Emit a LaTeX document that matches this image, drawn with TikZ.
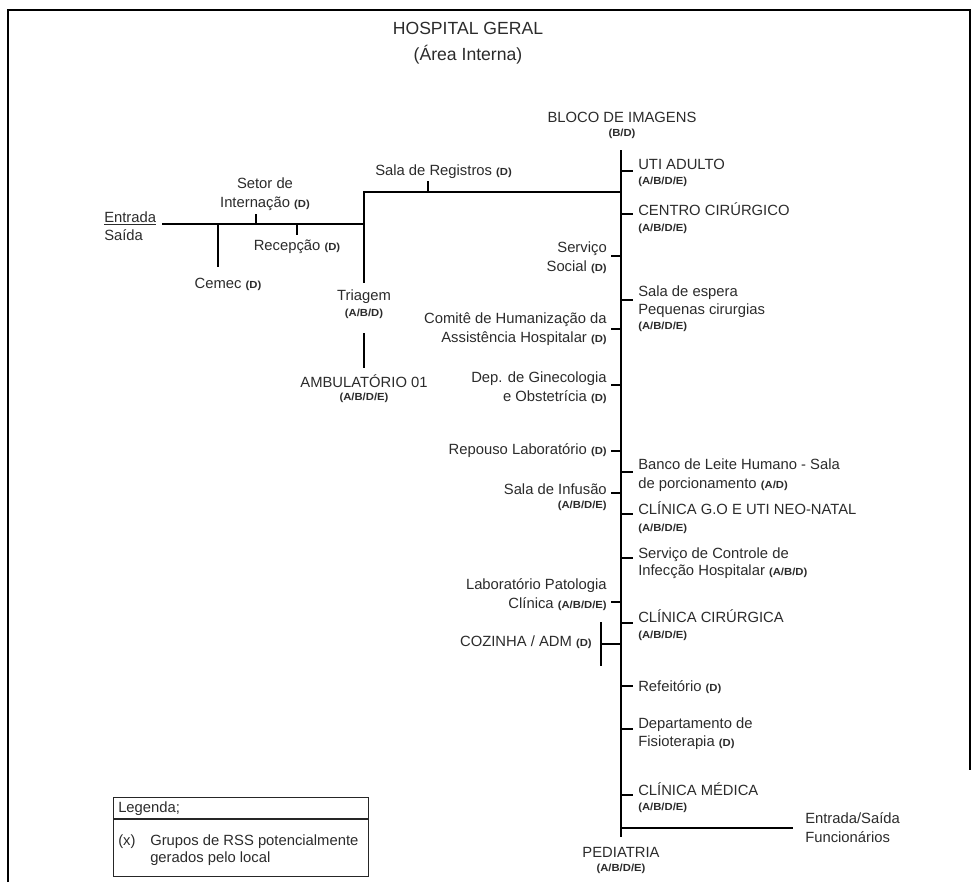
\documentclass[tikz,border=0pt]{standalone}
\usepackage{fontspec}
\setmainfont{Liberation Sans}
\newfontfamily\grpfam[FakeStretch=1.1]{Liberation Sans}
\newcommand\lblsize{\fontsize{11.1pt}{14.3pt}\selectfont}
\newcommand\titlesize{\fontsize{13.2pt}{16pt}\selectfont}
\newcommand\grp[1]{{\grpfam\bfseries\fontsize{7.7pt}{9pt}\selectfont #1}}
\definecolor{txt}{HTML}{2B2B2B}
\tikzset{
  lbl/.style={font=\lblsize, text=txt, inner sep=0pt},
  ttl/.style={font=\titlesize, text=txt, inner sep=0pt},
  gl/.style={text=txt, inner sep=0pt},
  ln/.style={line width=1.2pt, draw=black},
  frm/.style={line width=2pt, draw=black},
  lg/.style={line width=0.9pt, draw=black!85}
}
\begin{document}
\begin{tikzpicture}[x=0.75pt, y=-0.75pt]
\useasboundingbox (0,0) rectangle (978,882);
% frame
\coordinate (fbl) at (8,882); \coordinate (ftl) at (8,10);
\coordinate (ftr) at (970,10); \coordinate (fbr) at (970,770);
\draw[frm] (fbl) -- (ftl) -- (ftr) -- (fbr);
% title
\node[ttl] (title) at (468,28) {HOSPITAL GERAL};
\node[ttl] (sub) at (468,55) {(Área Interna)};
% top
\node[lbl, anchor=base] (bloco) at (622,122) {BLOCO DE IMAGENS};
\node[gl, anchor=base] (blocog) at (622,136) {\grp{(B/D)}};
% trunk
\coordinate (ttop) at (621,150); \coordinate (tbot) at (621,837);
\draw[ln] (ttop) -- (tbot);
% branch to left
\coordinate (jR) at (621,192); \coordinate (jL) at (364,192);
\coordinate (triT) at (364,283); \coordinate (jM) at (364,224);
\coordinate (eL) at (162,224);
\draw[ln] (jR) -- (jL) -- (triT);
\draw[ln] (jM) -- (eL);
\coordinate (srB) at (428,192); \coordinate (srT) at (428,181);
\draw[ln] (srB) -- (srT);
\coordinate (cmA) at (218,224); \coordinate (cmB) at (218,267);
\draw[ln] (cmA) -- (cmB);
\coordinate (siA) at (256,224); \coordinate (siB) at (256,214);
\draw[ln] (siA) -- (siB);
\coordinate (reA) at (297,224); \coordinate (reB) at (297,235);
\draw[ln] (reA) -- (reB);
\coordinate (amA) at (364,333); \coordinate (amB) at (364,368);
\draw[ln] (amA) -- (amB);
% left cluster labels
\node[lbl, anchor=base west] (entrada) at (104,222) {\underline{Entrada}};
\node[lbl, anchor=base west] (saida) at (104,240) {Saída};
\node[lbl, anchor=base] (setor1) at (265,188) {Setor de};
\node[lbl, anchor=base] (setor2) at (265,207) {Internação \grp{(D)}};
\node[lbl, anchor=base] (recep) at (297,250) {Recepção \grp{(D)}};
\node[lbl, anchor=base] (cemec) at (228,288) {Cemec \grp{(D)}};
\node[lbl, anchor=base] (triagem) at (364,300) {Triagem};
\node[gl, anchor=base] (triagemg) at (364,316) {\grp{(A/B/D)}};
\node[lbl, anchor=base] (amb) at (364,387) {AMBULATÓRIO 01};
\node[gl, anchor=base] (ambg) at (364,400) {\grp{(A/B/D/E)}};
\node[lbl, anchor=base west] (salareg) at (375,175) {Sala de Registros \grp{(D)}};
% left ticks of trunk
\foreach \n/\y in {ss/256, ch/329, dg/385, rl/451, si/493, lp/602}{
  \coordinate (\n T) at (621,\y); \coordinate (\n E) at (611,\y);
  \draw[ln] (\n T) -- (\n E);
}
\coordinate (czT) at (621,644); \coordinate (czE) at (601,644);
\coordinate (czU) at (601,622); \coordinate (czD) at (601,666);
\draw[ln] (czT) -- (czE); \draw[ln] (czU) -- (czD);
% left labels
\node[lbl, anchor=base east] (ss1) at (607,252) {Serviço};
\node[lbl, anchor=base east] (ss2) at (607,271) {Social \grp{(D)}};
\node[lbl, anchor=base east] (ch1) at (607,323) {Comitê de Humanização da};
\node[lbl, anchor=base east] (ch2) at (607,342) {Assistência Hospitalar \grp{(D)}};
\node[lbl, anchor=base east] (dg1) at (607,382) {Dep. de Ginecologia};
\node[lbl, anchor=base east] (dg2) at (607,401) {e Obstetrícia \grp{(D)}};
\node[lbl, anchor=base east] (rl1) at (607,454) {Repouso Laboratório \grp{(D)}};
\node[lbl, anchor=base east] (si1) at (607,494) {Sala de Infusão};
\node[gl, anchor=base east] (si2) at (607,508) {\grp{(A/B/D/E)}};
\node[lbl, anchor=base east] (lp1) at (607,589) {Laboratório Patologia};
\node[lbl, anchor=base east] (lp2) at (607,608) {Clínica \grp{(A/B/D/E)}};
\node[lbl, anchor=base east] (cz1) at (592,646) {COZINHA / ADM \grp{(D)}};
% right ticks
\foreach \n/\y in {ua/171, cc/214, se/300, bl/472, go/514, sc/558, ci/623, rf/686, df/729, cm/795}{
  \coordinate (\n T) at (621,\y); \coordinate (\n E) at (633,\y);
  \draw[ln] (\n T) -- (\n E);
}
% right labels
\node[lbl, anchor=base west] (ua1) at (638,169) {UTI ADULTO};
\node[gl, anchor=base west] (ua2) at (638,184) {\grp{(A/B/D/E)}};
\node[lbl, anchor=base west] (cc1) at (638,215) {CENTRO CIRÚRGICO};
\node[gl, anchor=base west] (cc2) at (638,231) {\grp{(A/B/D/E)}};
\node[lbl, anchor=base west] (se1) at (638,296) {Sala de espera};
\node[lbl, anchor=base west] (se2) at (638,314) {Pequenas cirurgias};
\node[gl, anchor=base west] (se3) at (638,329) {\grp{(A/B/D/E)}};
\node[lbl, anchor=base west] (bl1) at (638,469) {Banco de Leite Humano - Sala};
\node[lbl, anchor=base west] (bl2) at (638,488) {de porcionamento \grp{(A/D)}};
\node[lbl, anchor=base west] (go1) at (638,514) {CLÍNICA G.O E UTI NEO-NATAL};
\node[gl, anchor=base west] (go2) at (638,531) {\grp{(A/B/D/E)}};
\node[lbl, anchor=base west] (sc1) at (638,558) {Serviço de Controle de};
\node[lbl, anchor=base west] (sc2) at (638,575) {Infecção Hospitalar \grp{(A/B/D)}};
\node[lbl, anchor=base west] (ci1) at (638,622) {CLÍNICA CIRÚRGICA};
\node[gl, anchor=base west] (ci2) at (638,638) {\grp{(A/B/D/E)}};
\node[lbl, anchor=base west] (rf1) at (638,691) {Refeitório \grp{(D)}};
\node[lbl, anchor=base west] (df1) at (638,728) {Departamento de};
\node[lbl, anchor=base west] (df2) at (638,746) {Fisioterapia \grp{(D)}};
\node[lbl, anchor=base west] (cm1) at (638,795) {CLÍNICA MÉDICA};
\node[gl, anchor=base west] (cm2) at (638,810) {\grp{(A/B/D/E)}};
% bottom exit
\coordinate (exT) at (621,828); \coordinate (exE) at (793,828);
\draw[ln] (exT) -- (exE);
\node[lbl, anchor=base west] (ex1) at (805,823) {Entrada/Saída};
\node[lbl, anchor=base west] (ex2) at (805,842) {Funcionários};
\node[lbl, anchor=base] (ped) at (621,857) {PEDIATRIA};
\node[gl, anchor=base] (pedg) at (621,871) {\grp{(A/B/D/E)}};
% legend
\node[draw=black!85, line width=0.9pt, minimum width=255*0.75pt, minimum height=79*0.75pt, anchor=north west, inner sep=0pt] (legbox) at (113,797) {};
\coordinate (dvL) at (113,819); \coordinate (dvR) at (368,819);
\draw[lg] (dvL) -- (dvR);
\node[lbl, anchor=base west] (leg) at (118,812) {Legenda;};
\node[lbl, anchor=base west] (legx) at (118,845) {(x)};
\node[lbl, anchor=base west] (leg1) at (150,845) {Grupos de RSS potencialmente};
\node[lbl, anchor=base west] (leg2) at (150,862) {gerados pelo local};
\end{tikzpicture}
\end{document}
